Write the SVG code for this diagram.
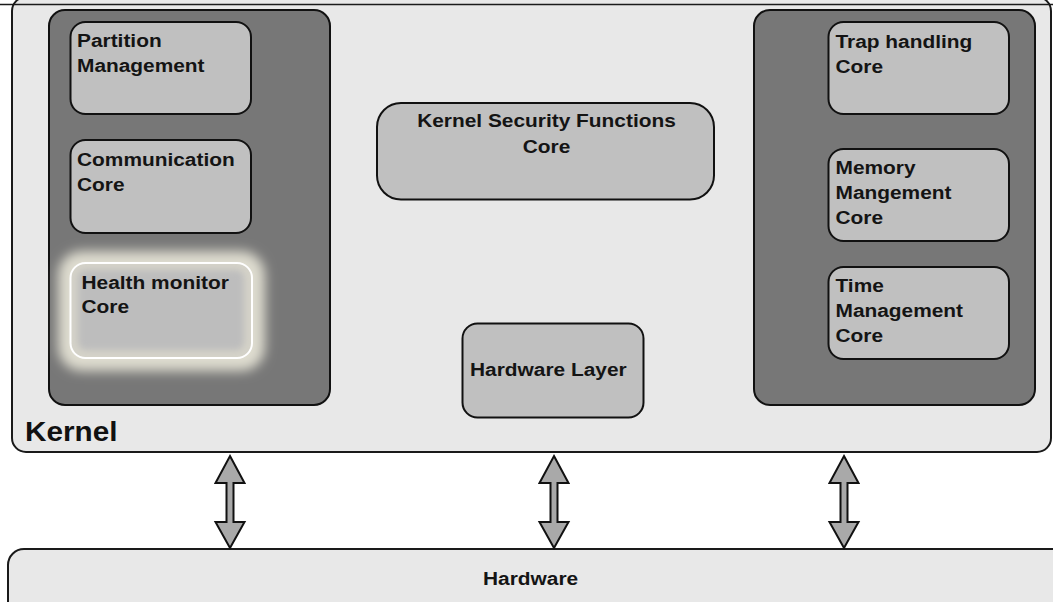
<svg xmlns="http://www.w3.org/2000/svg" xmlns:xlink="http://www.w3.org/1999/xlink" width="1053" height="602" viewBox="0 0 1053 602">
  <style>
    .area { fill: #e8e8e8; stroke: #1a1a1a; stroke-width: 2; }
    .panel { fill: #777777; stroke: #111111; stroke-width: 2; }
    .node { fill: #c0c0c0; stroke: #111111; stroke-width: 2; }
    .lbl { font-family: "Liberation Sans", Arial, Helvetica, sans-serif; font-weight: bold; font-size: 18px; fill: #141414; }
    .big { font-family: "Liberation Sans", Arial, Helvetica, sans-serif; font-weight: bold; font-size: 27px; fill: #111111; }
    .arrow { fill: #a9a9a9; stroke: #111111; stroke-width: 2; stroke-linejoin: miter; }
  </style>
  <defs>
    <!-- two-headed block arrow, centred on x = 0 -->
    <path id="dblArrow" d="M0,456 L14.5,483 L3.5,483 L3.5,522 L14.5,522 L0,548 L-14.5,522 L-3.5,522 L-3.5,483 L-14.5,483 Z"/>
    <filter id="soft" x="-20%" y="-30%" width="140%" height="160%">
      <feGaussianBlur stdDeviation="6"/>
    </filter>
    <filter id="softer" x="-10%" y="-20%" width="120%" height="140%">
      <feGaussianBlur stdDeviation="3"/>
    </filter>
  </defs>

  <rect width="1053" height="602" fill="#ffffff"/>

  <!-- kernel container -->
  <g id="kernel">
    <rect class="area" x="12" y="-3" width="1039" height="455" rx="14"/>
    <text class="big" transform="translate(25 441) scale(1.1 1)">Kernel</text>
  </g>
  <line x1="0" y1="4.5" x2="1053" y2="4.5" stroke="#1a1a1a" stroke-width="1.5"/>

  <!-- hardware bar -->
  <g id="hardware">
    <rect class="area" x="8" y="549" width="1070" height="70" rx="16"/>
    <text class="lbl" transform="translate(483 585) scale(1.16 1)">Hardware</text>
  </g>

  <!-- left column -->
  <g id="left-panel">
    <rect class="panel" x="49" y="10" width="281" height="395" rx="16"/>
  </g>
  <g id="partition-management">
    <rect class="node" x="70.5" y="22" width="180.5" height="92" rx="15"/>
    <text class="lbl" transform="translate(77 47) scale(1.16 1)"><tspan x="0" y="0">Partition</tspan><tspan x="0" y="25.5">Management</tspan></text>
  </g>
  <g id="communication-core">
    <rect class="node" x="70.5" y="140" width="180.5" height="93" rx="15"/>
    <text class="lbl" transform="translate(77 166) scale(1.16 1)"><tspan x="0" y="0">Communication</tspan><tspan x="0" y="25.5">Core</tspan></text>
  </g>
  <g id="health-monitor-core">
    <!-- highlighted node: soft halo, white rim, inset shading -->
    <rect x="58" y="251" width="207" height="120" rx="24" fill="#dedccf" filter="url(#soft)"/>
    <rect x="70.5" y="263" width="181.5" height="95" rx="15" fill="#d4d2c8" stroke="#ffffff" stroke-width="2"/>
    <rect x="78" y="270" width="166" height="80" rx="8" fill="#bdbdbd" filter="url(#softer)"/>
    <text class="lbl" transform="translate(81.5 289) scale(1.16 1)"><tspan x="0" y="0">Health monitor</tspan><tspan x="0" y="24">Core</tspan></text>
  </g>

  <!-- centre column -->
  <g id="kernel-security-functions-core">
    <rect class="node" x="377" y="103" width="337" height="96.5" rx="24"/>
    <text class="lbl" text-anchor="middle" transform="translate(546.5 127.3) scale(1.16 1)"><tspan x="0" y="0">Kernel Security Functions</tspan><tspan x="0" y="26">Core</tspan></text>
  </g>
  <g id="hardware-layer">
    <rect class="node" x="462.5" y="323.5" width="181" height="94" rx="15"/>
    <text class="lbl" transform="translate(470 375.7) scale(1.16 1)">Hardware Layer</text>
  </g>

  <!-- right column -->
  <g id="right-panel">
    <rect class="panel" x="754" y="10" width="281" height="395" rx="16"/>
  </g>
  <g id="trap-handling-core">
    <rect class="node" x="828.5" y="22" width="180.5" height="92" rx="15"/>
    <text class="lbl" transform="translate(835.5 48) scale(1.16 1)"><tspan x="0" y="0">Trap handling</tspan><tspan x="0" y="25">Core</tspan></text>
  </g>
  <g id="memory-management-core">
    <rect class="node" x="828.5" y="149" width="180.5" height="92" rx="15"/>
    <text class="lbl" transform="translate(835.5 174) scale(1.16 1)"><tspan x="0" y="0">Memory</tspan><tspan x="0" y="25.5">Mangement</tspan><tspan x="0" y="50.5">Core</tspan></text>
  </g>
  <g id="time-management-core">
    <rect class="node" x="828.5" y="267" width="180.5" height="92" rx="15"/>
    <text class="lbl" transform="translate(835.5 291.7) scale(1.16 1)"><tspan x="0" y="0">Time</tspan><tspan x="0" y="25.5">Management</tspan><tspan x="0" y="50.5">Core</tspan></text>
  </g>

  <!-- kernel / hardware links -->
  <g id="connectors">
    <use xlink:href="#dblArrow" class="arrow" transform="translate(230 0)"/>
    <use xlink:href="#dblArrow" class="arrow" transform="translate(554 0)"/>
    <use xlink:href="#dblArrow" class="arrow" transform="translate(844 0)"/>
  </g>
</svg>
